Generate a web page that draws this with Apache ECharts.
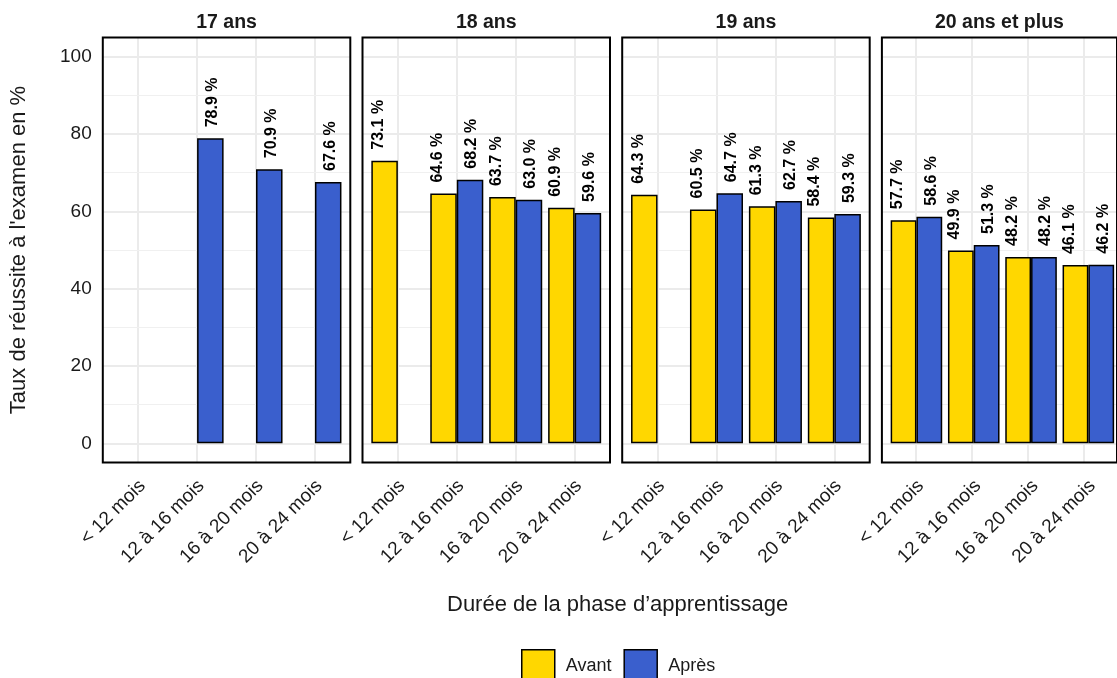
<!DOCTYPE html>
<html><head><meta charset="utf-8">
<script src="https://cdn.jsdelivr.net/npm/echarts@6/dist/echarts.min.js"></script>
<style>html,body{margin:0;padding:0;background:#fff}#c{width:1117px;height:678px}</style>
</head><body><div id="c"></div>
<script>
// ---- data ----
const ages = ['17 ans', '18 ans', '19 ans', '20 ans et plus'];
const categories = ['< 12 mois', '12 à 16 mois', '16 à 20 mois', '20 à 24 mois'];
const seriesNames = ['Avant', 'Après'];
const avant17 = [null, null, null, null];
const apres17 = [null, 78.9, 70.9, 67.6];
const avant18 = [73.1, 64.6, 63.7, 60.9];
const apres18 = [null, 68.2, 63.0, 59.6];
const avant19 = [64.3, 60.5, 61.3, 58.4];
const apres19 = [null, 64.7, 62.7, 59.3];
const avant20 = [57.7, 49.9, 48.2, 46.1];
const apres20 = [58.6, 51.3, 48.2, 46.2];
const yTicks = [0, 20, 40, 60, 80, 100];
const yMinorTicks = [10, 30, 50, 70, 90];
const yTitle = "Taux de réussite à l'examen en %";
const xTitle = 'Durée de la phase d\u2019apprentissage';

const avantAll = [avant17, avant18, avant19, avant20];
const apresAll = [apres17, apres18, apres19, apres20];

// ---- layout ----
const CW = 1117;
const FONT = '"Liberation Sans", Arial, sans-serif';
const TXT = '#1a1a1a';
const PANEL_LEFTS = [102.8, 362.5, 622.2, 881.9];
const PANEL_W = 247.5, PANEL_TOP = 37.4, PANEL_H = 425.2;
const COLORS = ['#FFD700', '#3A5FCD'];
const LABEL_SHIFT = [-6, 2];

const grids = [], xAxes = [], yAxes = [], series = [];
PANEL_LEFTS.forEach((L, i) => {
  const dl = L + PANEL_W * 0.1 / 4.2, dw = PANEL_W * 4 / 4.2;
  // frame grid (border + grid lines), x range 0.4..4.6, y range -5..105
  grids.push({ left: L, right: CW - (L + PANEL_W), top: PANEL_TOP, height: PANEL_H,
    show: true, borderColor: '#000', borderWidth: 2, backgroundColor: 'transparent', z: 10 });
  // data grid (bars), inner 4 category bands, y 0..100
  grids.push({ left: dl, right: CW - (dl + dw), top: PANEL_TOP + PANEL_H * 5 / 110,
    height: PANEL_H * 100 / 110, show: false });
  xAxes.push({ gridIndex: 2 * i, type: 'value', min: 0.4, max: 4.6, position: 'top',
    name: ages[i], nameLocation: 'middle', nameGap: 5,
    nameTextStyle: { fontFamily: FONT, fontWeight: 'bold', fontSize: 19.5, color: TXT },
    axisLine: { show: false }, axisTick: { show: false }, axisLabel: { show: false }, splitLine: { show: false } });
  xAxes.push({ gridIndex: 2 * i + 1, type: 'category', data: categories,
    axisLine: { show: false }, axisTick: { show: false }, splitLine: { show: false },
    axisLabel: { interval: 0, rotate: 45, margin: 44, padding: [0, -6, 0, 0],
      fontFamily: FONT, fontSize: 19, color: TXT } });
  yAxes.push({ gridIndex: 2 * i, type: 'value', min: -5, max: 105, show: false });
  yAxes.push({ gridIndex: 2 * i + 1, type: 'value', min: 0, max: 100, interval: 20,
    axisLine: { show: false }, axisTick: { show: false }, splitLine: { show: false },
    axisLabel: { show: i === 0, margin: 17, fontFamily: FONT, fontSize: 19, color: TXT },
    name: i === 0 ? yTitle : '', nameLocation: 'middle', nameGap: 79,
    nameTextStyle: { fontFamily: FONT, fontSize: 22, color: TXT } });

  const lines = [];
  categories.forEach((c, k) => lines.push({ xAxis: k + 1, lineStyle: { color: '#EBEBEB', width: 2, type: 'solid' } }));
  yTicks.forEach(v => lines.push({ yAxis: v, lineStyle: { color: '#EBEBEB', width: 2, type: 'solid' } }));
  yMinorTicks.forEach(v => lines.push({ yAxis: v, lineStyle: { color: '#F0F0F0', width: 1.2, type: 'solid' } }));
  series.push({ name: 'grid' + i, type: 'line', xAxisIndex: 2 * i, yAxisIndex: 2 * i, data: [],
    silent: true, z: 1,
    markLine: { silent: true, symbol: ['none', 'none'], label: { show: false }, z: 1,
      emphasis: { disabled: true }, data: lines } });

  [avantAll[i], apresAll[i]].forEach((vals, s) => {
    series.push({
      name: seriesNames[s], type: 'bar', xAxisIndex: 2 * i + 1, yAxisIndex: 2 * i + 1,
      data: vals, barGap: '0%', barCategoryGap: '10%', z: 3,
      itemStyle: { color: COLORS[s], borderColor: '#000', borderWidth: 1.5 },
      label: { show: true, position: 'top', distance: 11, rotate: 90, align: 'left', verticalAlign: 'middle',
        offset: [0, LABEL_SHIFT[s]],
        fontFamily: FONT, fontWeight: 'bold', fontSize: 16, color: '#000',
        formatter: p => p.value == null ? '' : p.value.toFixed(1) + ' %' }
    });
  });
});

const chart = echarts.init(document.getElementById('c'), null, { renderer: 'canvas' });
chart.setOption({
  animation: false,
  backgroundColor: '#fff',
  grid: grids, xAxis: xAxes, yAxis: yAxes, series: series,
  legend: { data: seriesNames, left: 521, top: 649, padding: 0, itemWidth: 33, itemHeight: 33, itemGap: 12,
    icon: 'rect', itemStyle: { borderColor: '#000', borderWidth: 1.5 },
    textStyle: { fontFamily: FONT, fontSize: 18, color: TXT, padding: [0, 0, 0, 6] } },
  graphic: [{ type: 'text', left: 618 - 171, top: 594,
    style: { text: xTitle, font: '22px ' + FONT, fill: TXT } }]
});
</script></body></html>
